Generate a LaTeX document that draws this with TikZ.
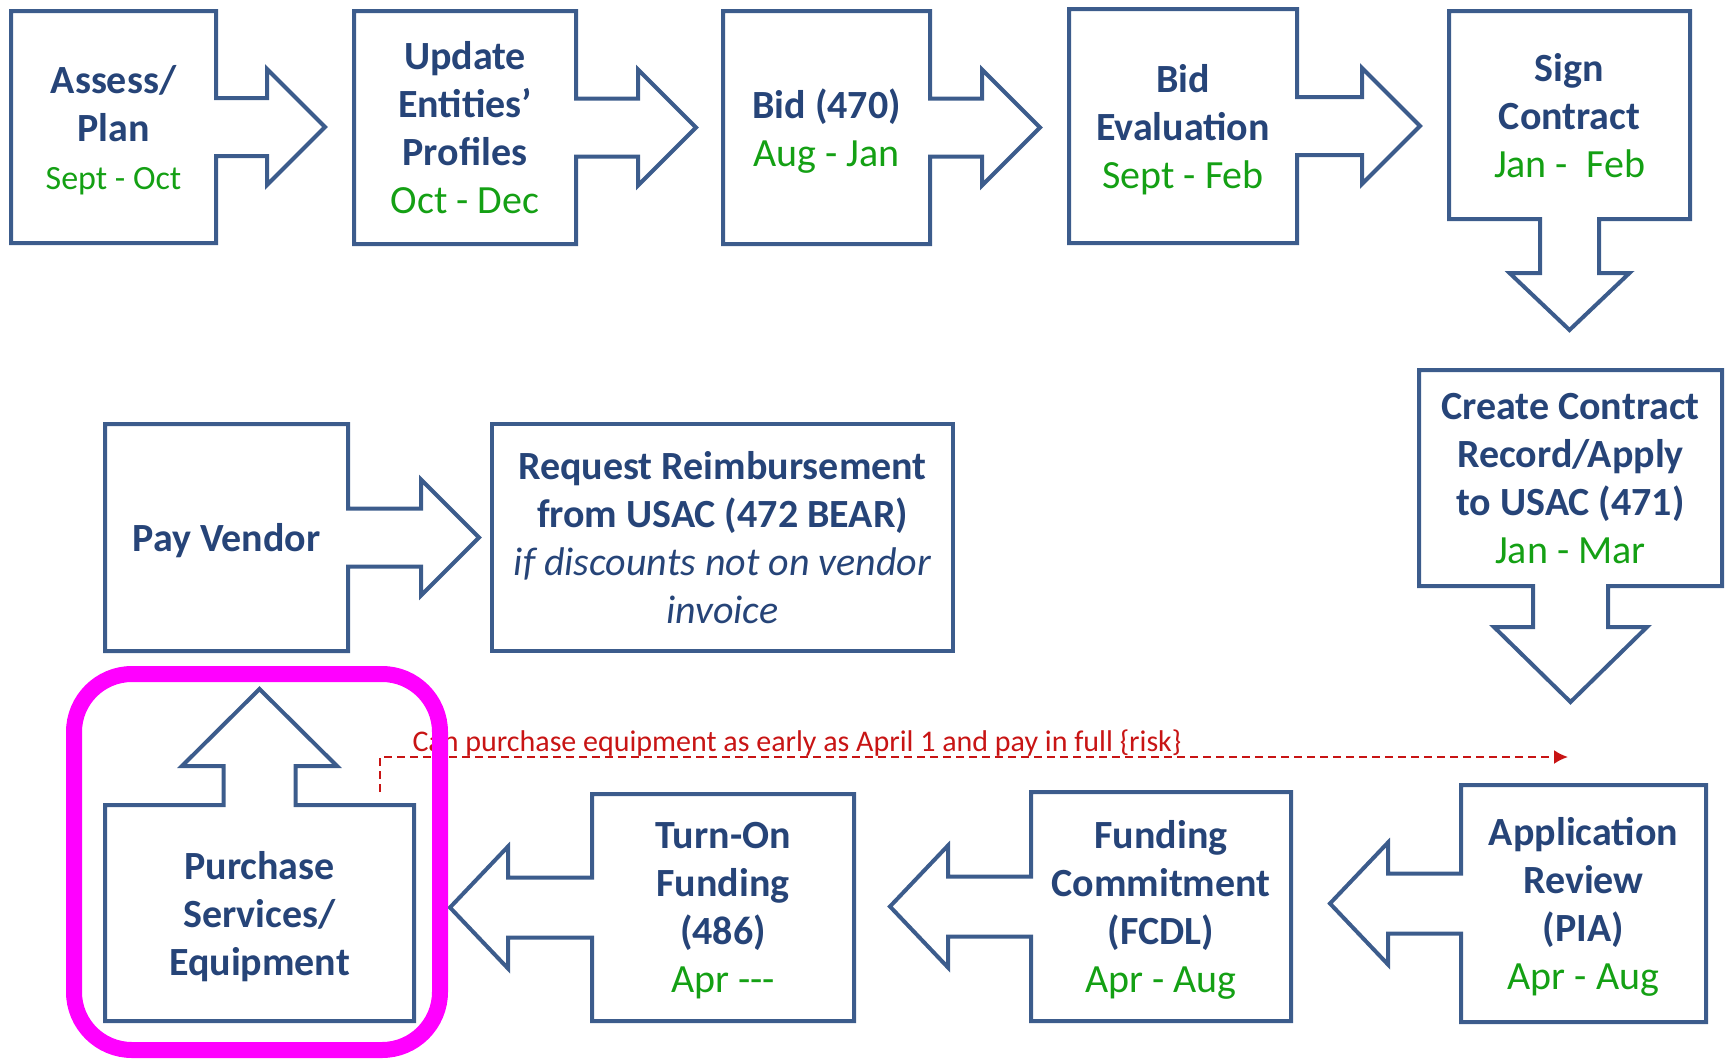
\documentclass[tikz,border=0pt]{standalone}
\usepackage{fontspec}
\setmainfont{Carlito}
\usetikzlibrary{calc}
\usetikzlibrary{arrows.meta}
\definecolor{framecol}{RGB}{60,92,140}
\definecolor{titlecol}{RGB}{38,68,120}
\definecolor{datecol}{RGB}{20,160,20}
\definecolor{riskcol}{RGB}{200,20,20}
\definecolor{markcol}{RGB}{255,0,255}
\tikzset{stage/.style={inner sep=0pt,outer sep=0pt,align=center,text=titlecol,
                       font=\fontsize{20}{24}\selectfont\bfseries,text depth=0pt}}
\tikzset{frame/.style={draw=framecol,line width=2pt,line join=miter}}
\newcommand{\when}[1]{{\mdseries\color{datecol}#1}}

% box with an arrow to the right: name, shaft length, head length
\newcommand{\boxright}[3]{%
  \draw[frame] (#1.north west) -- (#1.north east) -- ($(#1.east)+(0,-29)$)
    -- ++(#2,0) -- ++(0,-29) -- ($(#1.east)+(#2+#3,0)$) -- ($(#1.east)+(#2,58)$)
    -- ++(0,-29) -- ($(#1.east)+(0,29)$) -- (#1.south east) -- (#1.south west) -- cycle;}
% box with an arrow to the left: name, shaft length, head length
\newcommand{\boxleft}[3]{%
  \draw[frame] (#1.north east) -- (#1.north west) -- ($(#1.west)+(0,-30)$)
    -- ++(-#2,0) -- ++(0,-31) -- ($(#1.west)+(-#2-#3,0)$) -- ($(#1.west)+(-#2,61)$)
    -- ++(0,-31) -- ($(#1.west)+(0,30)$) -- (#1.south west) -- (#1.south east) -- cycle;}
% box with an arrow down: name, shaft half width, head half width, shaft length, head length
\newcommand{\boxdown}[5]{%
  \draw[frame] (#1.south west) -- (#1.north west) -- (#1.north east) -- (#1.south east)
    -- ($(#1.south)+(#2,0)$) -- ++(0,#4) -- ($(#1.south)+(#3,#4)$) -- ($(#1.south)+(0,#4+#5)$)
    -- ($(#1.south)+(-#3,#4)$) -- ($(#1.south)+(-#2,#4)$) -- ($(#1.south)+(-#2,0)$) -- cycle;}
% box with an arrow up: same arguments
\newcommand{\boxup}[5]{%
  \draw[frame] (#1.north west) -- (#1.south west) -- (#1.south east) -- (#1.north east)
    -- ($(#1.north)+(#2,0)$) -- ++(0,-#4) -- ($(#1.north)+(#3,-#4)$) -- ($(#1.north)+(0,-#4-#5)$)
    -- ($(#1.north)+(-#3,-#4)$) -- ($(#1.north)+(-#2,-#4)$) -- ($(#1.north)+(-#2,0)$) -- cycle;}

\begin{document}
\begin{tikzpicture}[x=0.5pt,y=-0.5pt]
    \tikzstyle{risktext}=[inner sep=0pt,text=riskcol,font=\fontsize{15}{18}\selectfont]
    \tikzstyle{riskline}=[draw=riskcol,line width=1pt,dash pattern=on 4pt off 2.5pt,
                          -{Latex[length=7pt,width=7pt]}]
    \tikzstyle{highlight}=[draw=markcol,line width=8pt,rounded corners=29pt]
    \useasboundingbox (0,0) rectangle (1725,1060);

    % Draw the top row
    \node[stage,minimum width=102.5pt,minimum height=116pt] (assess) at (113.5,127)
        {Assess/\\Plan\\\when{\fontsize{17}{23}\selectfont Sept - Oct}};
    \node[stage,minimum width=111pt,minimum height=116.5pt] (update) at (465,127.5)
        {Update\\Entities’\\Profiles\\\when{Oct - Dec}};
    \node[stage,minimum width=103.5pt,minimum height=116.5pt] (bid) at (826.5,127.5)
        {Bid (470)\\\when{Aug - Jan}};
    \node[stage,minimum width=114pt,minimum height=117pt] (bideval) at (1183,126)
        {Bid\\Evaluation\\\when{Sept - Feb}};
    \node[stage,minimum width=120.5pt,minimum height=104pt] (sign) at (1569.5,115)
        {Sign\\Contract\\\when{Jan -\ \ Feb}};

    % Draw the middle row
    \node[stage,minimum width=151.5pt,minimum height=108pt] (create) at (1570.5,478)
        {Create Contract\\Record/Apply\\to USAC (471)\\\when{Jan - Mar}};
    \node[stage,minimum width=121.5pt,minimum height=113.5pt] (pay) at (226.5,537.5)
        {Pay Vendor};
    \node[stage,minimum width=230.5pt,minimum height=113.5pt] (request) at (722.5,537.5)
        {Request Reimbursement\\from USAC (472 BEAR)\\{\mdseries\itshape if discounts not on vendor}\\{\mdseries\itshape invoice}};

    % Draw the bottom row
    \node[stage,minimum width=122.5pt,minimum height=118.5pt] (review) at (1583.5,903.5)
        {Application\\Review\\(PIA)\\\when{Apr - Aug}};
    \node[stage,minimum width=130pt,minimum height=114.5pt] (fcdl) at (1161,906.5)
        {Funding\\Commitment\\(FCDL)\\\when{Apr - Aug}};
    \node[stage,minimum width=131pt,minimum height=113.5pt] (turnon) at (723,907.5)
        {Turn-On\\Funding\\(486)\\\when{Apr -{}-{}-}};
    \node[stage,minimum width=154.5pt,minimum height=108pt] (purchase) at (259.5,913)
        {Purchase\\Services/\\Equipment};

    % Outlines with their arrows
    \foreach \name/\shaft in {assess/51,update/62,bid/52,bideval/65,pay/73}
        \boxright{\name}{\shaft}{58};
    \foreach \name/\shaft in {review/73,fcdl/83,turnon/84}
        \boxleft{\name}{\shaft}{58};
    \boxdown{sign}{29.5}{60}{54}{57}
    \boxdown{create}{37.5}{76.5}{41}{75}
    \boxup{purchase}{36}{77.5}{39}{77}
    \draw[frame] (request.north west) rectangle (request.south east);

    % Early purchase note
    \coordinate (riskstart) at (380,792);
    \coordinate (riskend) at (1568,757);
    \draw[riskline] (riskstart) |- (riskend);
    \node[risktext,anchor=base] (risknote) at (797,751)
        {Can purchase equipment as early as April 1 and pay in full \{risk\}};

    % Highlight round the purchase step
    \draw[highlight] (74,674) rectangle (440,1050);
\end{tikzpicture}
\end{document}
